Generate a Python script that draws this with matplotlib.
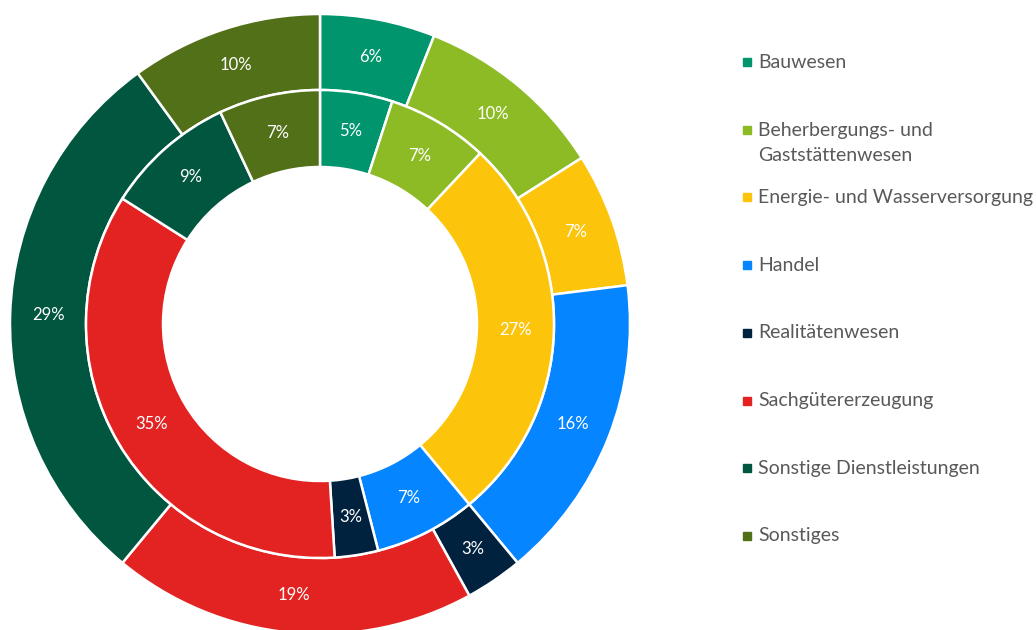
import matplotlib.pyplot as plt
from matplotlib.patches import Rectangle

plt.rcParams['font.family'] = ['Lato', 'DejaVu Sans']

categories = ['Bauwesen', 'Beherbergungs- und\nGaststättenwesen',
              'Energie- und Wasserversorgung', 'Handel', 'Realitätenwesen',
              'Sachgütererzeugung', 'Sonstige Dienstleistungen', 'Sonstiges']
outer_values = [6, 10, 7, 16, 3, 19, 29, 10]
inner_values = [5, 7, 27, 7, 3, 35, 9, 7]
colors = ['#00956D', '#8DBB25', '#FDC40C', '#0585FF', '#00223E',
          '#E32322', '#00563F', '#527018']

W, H = 1036, 630
fig = plt.figure(figsize=(W / 100, H / 100), dpi=100)

# donut centre at (320, 324) px, outer radius 310 px
cx, cy, r = 320, 324, 310
ax = fig.add_axes([(cx - r) / W, (H - cy - r) / H, 2 * r / W, 2 * r / H])

wedge = dict(edgecolor='white', linewidth=1.8)
txt = dict(color='white', fontsize=12)

r_mid = 234 / r
r_hole = 157 / r

ax.pie(outer_values, colors=colors, radius=1.0, startangle=90, counterclock=False,
       autopct=lambda p: '{:.0f}%'.format(p), pctdistance=272 / r,
       wedgeprops=dict(width=1.0 - r_mid, **wedge), textprops=txt)
ax.pie(inner_values, colors=colors, radius=r_mid, startangle=90, counterclock=False,
       autopct=lambda p: '{:.0f}%'.format(p), pctdistance=(r_mid + r_hole) / 2 / r_mid,
       wedgeprops=dict(width=r_mid - r_hole, **wedge), textprops=txt)
ax.set_xlim(-1, 1)
ax.set_ylim(-1, 1)
ax.set_aspect('equal')
ax.axis('off')

# legend, drawn by hand
y0, step = 62, 67.7
for i, (lab, col) in enumerate(zip(categories, colors)):
    y = y0 + i * step
    fig.patches.append(Rectangle((743 / W, (H - y - 4) / H), 8 / W, 8 / H,
                                 transform=fig.transFigure, color=col))
    if '\n' in lab:
        fig.text(758 / W, (H - y + 8) / H, lab, color='#595959', fontsize=14,
                 va='top', ha='left', linespacing=1.6)
    else:
        fig.text(758 / W, (H - y) / H, lab, color='#595959', fontsize=14,
                 va='center', ha='left')

fig.savefig('out.png', dpi=100)
